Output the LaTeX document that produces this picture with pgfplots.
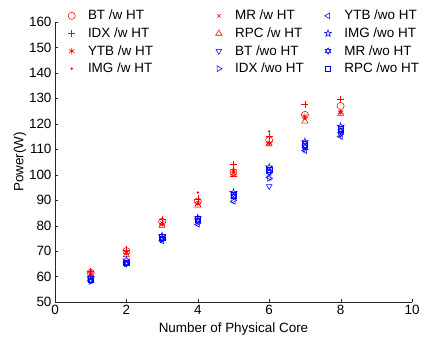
\documentclass[border=0pt]{standalone}
\usepackage{pgfplots}
\pgfplotsset{compat=1.18}
\usepackage{fontspec}
\setmainfont{Liberation Sans}
\pgfdeclareplotmark{pentagram}{%
  \pgfpathmoveto{\pgfpointpolar{90}{\pgfplotmarksize}}%
  \pgfpathlineto{\pgfpointpolar{126}{0.382\pgfplotmarksize}}%
  \pgfpathlineto{\pgfpointpolar{162}{\pgfplotmarksize}}%
  \pgfpathlineto{\pgfpointpolar{198}{0.382\pgfplotmarksize}}%
  \pgfpathlineto{\pgfpointpolar{234}{\pgfplotmarksize}}%
  \pgfpathlineto{\pgfpointpolar{270}{0.382\pgfplotmarksize}}%
  \pgfpathlineto{\pgfpointpolar{306}{\pgfplotmarksize}}%
  \pgfpathlineto{\pgfpointpolar{342}{0.382\pgfplotmarksize}}%
  \pgfpathlineto{\pgfpointpolar{18}{\pgfplotmarksize}}%
  \pgfpathlineto{\pgfpointpolar{54}{0.382\pgfplotmarksize}}%
  \pgfpathclose\pgfusepathqstroke}
\pgfdeclareplotmark{hexagram}{%
  \pgfpathmoveto{\pgfpointpolar{90}{\pgfplotmarksize}}%
  \pgfpathlineto{\pgfpointpolar{210}{\pgfplotmarksize}}%
  \pgfpathlineto{\pgfpointpolar{330}{\pgfplotmarksize}}%
  \pgfpathclose
  \pgfpathmoveto{\pgfpointpolar{270}{\pgfplotmarksize}}%
  \pgfpathlineto{\pgfpointpolar{30}{\pgfplotmarksize}}%
  \pgfpathlineto{\pgfpointpolar{150}{\pgfplotmarksize}}%
  \pgfpathclose\pgfusepathqstroke}
\definecolor{axgray}{rgb}{0.15,0.15,0.15}
\newcommand{\la}[1]{\makebox[120pt][l]{#1}}
\newcommand{\lb}[1]{\makebox[82pt][l]{#1}}
\begin{document}
\begin{tikzpicture}
\begin{axis}[
  scale only axis, width=357bp, height=280bp,
  xmin=0, xmax=10, ymin=50, ymax=160,
  xtick={0,2,...,10}, ytick={50,60,...,160},
  axis lines=left, axis line style={-, axgray},
  tick align=inside, major tick length=3.5pt,
  tick style={axgray},
  font=\fontsize{13.5}{15}\selectfont,
  /pgf/number format/assume math mode=true,
  xlabel={Number of Physical Core}, ylabel={Power(W)},
  xlabel style={yshift=-1pt}, ylabel style={yshift=-4pt},
  legend columns=3,
  legend cell align=left,
  legend image code/.code={\path (0,0) (23bp,0); \draw plot coordinates {(9bp,0cm)};},
  legend style={at={(rel axis cs:0.012,1.057)}, anchor=north west, draw=none, fill=none,
    font=\fontsize{13.5}{15}\selectfont, row sep=2.4pt, column sep=0pt},
  every axis plot/.append style={only marks, mark size=3.3pt, line width=0.55pt},
]
\coordinate (bl) at (rel axis cs:0,0);
% row 1
\addplot[red, mark=o, mark size=3.6pt] coordinates {(1,61.5)(2,70)(3,81.5)(4,89.5)(5,101)(6,113.5)(7,123.5)(8,127)};
\addlegendentry{\la{BT /w HT}}
\addplot[red, mark=x, mark size=2.5pt] coordinates {(1,61)(2,69.5)(3,81)(4,89)(5,100.5)(6,112)(7,122.5)(8,124.5)};
\addlegendentry{\lb{MR /w HT}}
\addplot[blue, mark=triangle, mark options={rotate=90}] coordinates {(1,58.5)(2,65.5)(3,74)(4,80.5)(5,89.5)(6,99)(7,109.5)(8,115)};
\addlegendentry{YTB /wo HT}
% row 2
\addplot[red, mark=+, mark size=3.6pt] coordinates {(1,62)(2,70.5)(3,82.5)(4,90.5)(5,104)(6,115)(7,127.5)(8,129.5)};
\addlegendentry{\la{IDX /w HT}}
\addplot[red, mark=triangle, mark size=3.6pt] coordinates {(1,60.5)(2,68.5)(3,80)(4,88)(5,100)(6,112)(7,121)(8,124)};
\addlegendentry{\lb{RPC /w HT}}
\addplot[blue, mark=pentagram, mark size=3.6pt] coordinates {(1,59.5)(2,66.5)(3,76)(4,83)(5,93)(6,103)(7,113)(8,119)};
\addlegendentry{IMG /wo HT}
% row 3
\addplot[red, mark=asterisk, mark size=3.3pt] coordinates {(1,61)(2,69.5)(3,80.5)(4,88.5)(5,101.5)(6,112.5)(7,123)(8,124.5)};
\addlegendentry{\la{YTB /w HT}}
\addplot[blue, mark=triangle, mark options={rotate=180}] coordinates {(1,58.5)(2,65.5)(3,75)(4,82)(5,92.5)(6,95.5)(7,111)(8,116)};
\addlegendentry{\lb{BT /wo HT}}
\addplot[blue, mark=hexagram, mark size=3.3pt] coordinates {(1,58.5)(2,65)(3,75)(4,82)(5,91.5)(6,101)(7,111)(8,117)};
\addlegendentry{MR /wo HT}
% row 4
\addplot[red, mark=*, mark size=0.9pt] coordinates {(1,62.5)(2,70)(3,81)(4,93)(5,102)(6,117)(7,122)(8,125)};
\addlegendentry{\la{IMG /w HT}}
\addplot[blue, mark=triangle, mark options={rotate=-90}] coordinates {(1,58)(2,65)(3,74.5)(4,81)(5,90)(6,98.5)(7,110)(8,116)};
\addlegendentry{\lb{IDX /wo HT}}
\addplot[blue, mark=square, mark size=2.7pt] coordinates {(1,59)(2,65.5)(3,75.5)(4,82.5)(5,92)(6,102)(7,112)(8,118)};
\addlegendentry{RPC /wo HT}
\end{axis}
\pgfresetboundingbox
\path (bl) ++(-55bp,-35bp) rectangle ++(434bp,337bp);
\end{tikzpicture}
\end{document}
